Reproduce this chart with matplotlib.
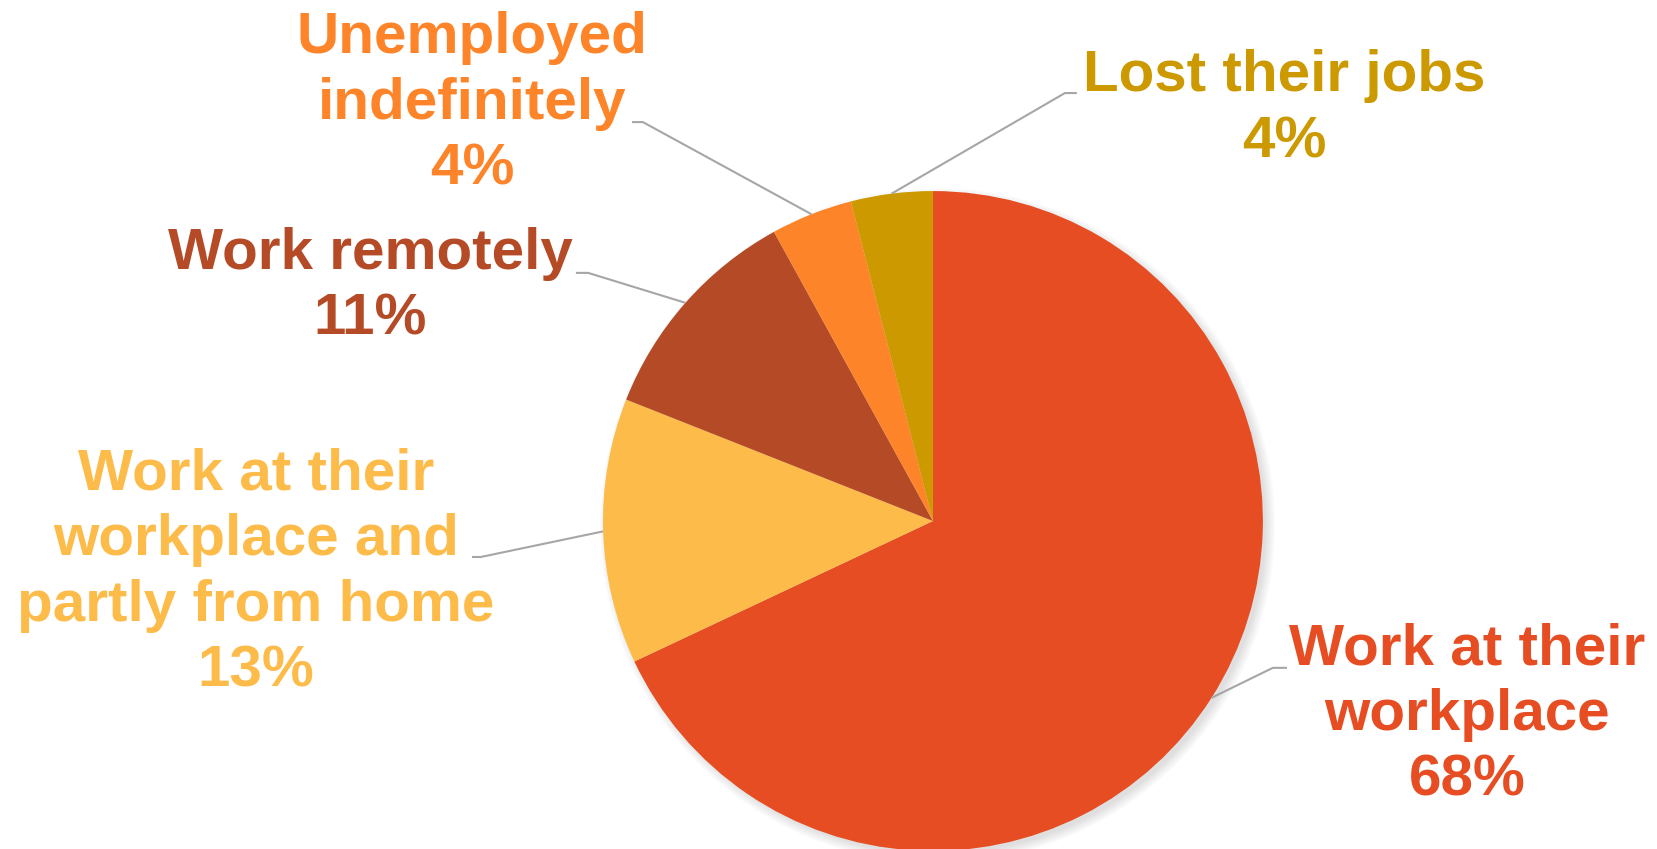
import matplotlib.pyplot as plt
from matplotlib.patches import Circle
import numpy as np

# data
labels = ["Work at their\nworkplace",
          "Work at their\nworkplace and\npartly from home",
          "Work remotely",
          "Unemployed\nindefinitely",
          "Lost their jobs"]
shares = [68, 13, 11, 4, 4]
colors = ["#E64D23", "#FDBB4A", "#B54A26", "#FE8429", "#CC9900"]

# label centres, elbow of leader line, end of horizontal stub (data units, radius = 1)
text_pos = [(1.618, -0.588), (-2.052, -0.158), (-1.706, 0.709), (-1.397, 1.264), (1.064, 1.248)]
elbow_pos = [(1.030, -0.445), (-1.370, -0.109), (-1.045, 0.752), (-0.879, 1.209), (0.400, 1.297)]
stub_end = [(1.073, -0.445), (-1.397, -0.109), (-1.082, 0.752), (-0.912, 1.209), (0.436, 1.297)]

fig = plt.figure(figsize=(16.57, 8.49), dpi=100)
ax = fig.add_axes([0, 0, 1, 1])

# soft shadow, down-right
for i in range(8):
    ax.add_patch(Circle((0.014, -0.014), 0.995 + 0.004 * i, color="#808080",
                        alpha=0.03, lw=0, zorder=0))

wedges, _ = ax.pie(shares, colors=colors, startangle=90, counterclock=False,
                   radius=1.0, center=(0, 0), frame=True,
                   wedgeprops=dict(linewidth=0))
ax.set_xlim(-2.827, 2.194)
ax.set_ylim(-0.994, 1.579)
ax.set_aspect("equal")
ax.axis("off")

for w, lab, v, c, tp, el, se in zip(wedges, labels, shares, colors,
                                     text_pos, elbow_pos, stub_end):
    ang = np.deg2rad((w.theta1 + w.theta2) / 2)
    px, py = np.cos(ang), np.sin(ang)
    ax.plot([px, el[0], se[0]], [py, el[1], se[1]], color="#A6A6A6", lw=1.5,
            solid_capstyle="butt", zorder=1)
    ax.text(tp[0], tp[1], f"{lab}\n{v}%", color=c, ha="center", va="center",
            fontsize=42, fontweight="bold", family="Liberation Sans",
            linespacing=1.28)

fig.savefig("out.png", dpi=100)
